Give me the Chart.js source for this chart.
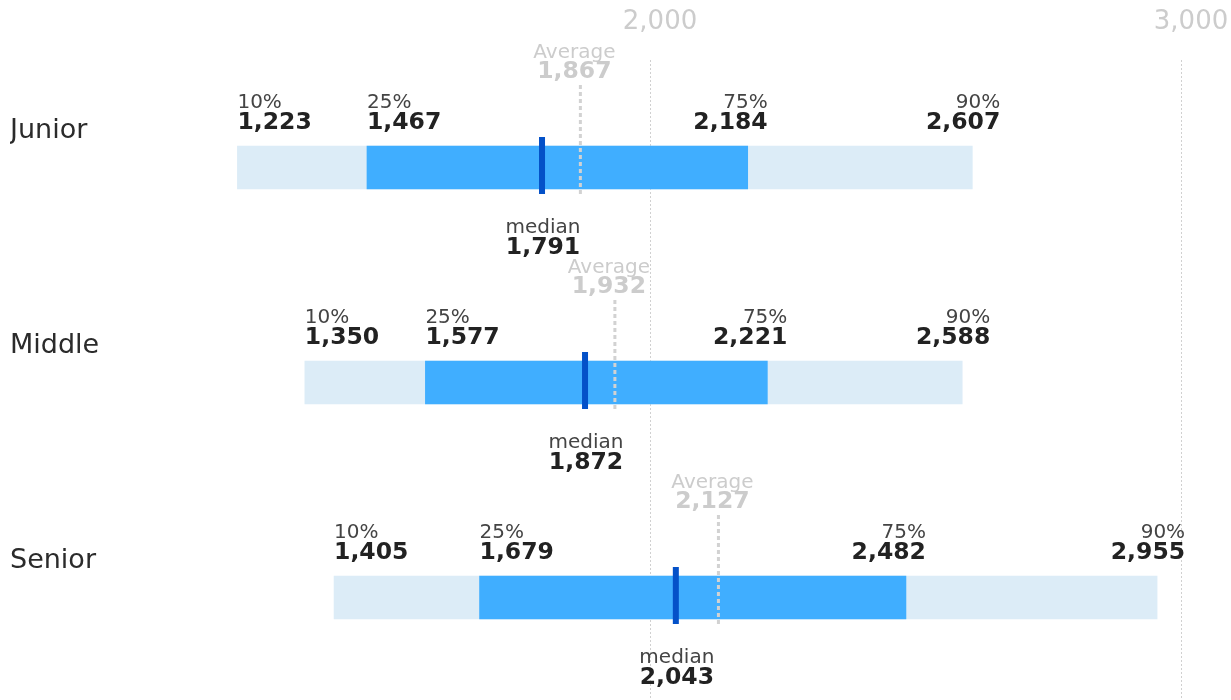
<!DOCTYPE html>
<html>
<head>
<meta charset="utf-8">
<script src="https://cdn.jsdelivr.net/npm/chart.js@4.4.1/dist/chart.umd.min.js"></script>
<style>
  html, body { margin: 0; padding: 0; overflow: hidden; background: #fff; }
  #wrap { width: 1231px; height: 705px; }
</style>
</head>
<body>
<div id="wrap"><canvas id="chart"></canvas></div>
<script>
// salary percentiles per level
const categories = ['Junior', 'Middle', 'Senior'];
const p10 = [1223, 1350, 1405];
const p25 = [1467, 1577, 1679];
const median = [1791, 1872, 2043];
const p75 = [2184, 2221, 2482];
const p90 = [2607, 2588, 2955];
const average = [1867, 1932, 2127];
const xTicks = [2000, 3000];

const fmt = v => v.toLocaleString('en-US');
const FONT = '"DejaVu Sans", sans-serif';

// draws median / average markers and the percentile labels
const markers = {
  id: 'markers',
  afterDatasetsDraw(chart) {
    const ctx = chart.ctx;
    const xs = v => chart.scales.x.getPixelForValue(v);
    const ys = chart.scales.y;
    ctx.save();
    categories.forEach((c, i) => {
      const cy = ys.getPixelForValue(i);

      // median bar
      ctx.fillStyle = '#0451c8';
      ctx.fillRect(xs(median[i]), cy - 30.5, 6, 57);

      // average dashed line
      ctx.strokeStyle = '#d2d2d2';
      ctx.lineWidth = 3;
      ctx.setLineDash([4, 3]);
      ctx.beginPath();
      ctx.moveTo(xs(average[i]) + 1, cy - 82.5);
      ctx.lineTo(xs(average[i]) + 1, cy + 29.5);
      ctx.stroke();
      ctx.setLineDash([]);

      const label = (name, val, x, align, yName, yVal, nameColor, valColor) => {
        ctx.textAlign = align;
        ctx.textBaseline = 'alphabetic';
        ctx.font = '20px ' + FONT;
        ctx.fillStyle = nameColor;
        ctx.fillText(name, x, cy + yName);
        ctx.font = 'bold 23.5px ' + FONT;
        ctx.fillStyle = valColor;
        ctx.fillText(fmt(val), x, cy + yVal);
      };

      label('10%', p10[i], xs(p10[i]), 'left', -60, -39, '#444', '#222');
      label('25%', p25[i], xs(p25[i]), 'left', -60, -39, '#444', '#222');
      label('75%', p75[i], xs(p75[i]) + 20, 'right', -60, -39, '#444', '#222');
      label('90%', p90[i], xs(p90[i]) + 28, 'right', -60, -39, '#444', '#222');
      label('median', median[i], xs(median[i]) + 4, 'center', 65, 86.5, '#444', '#222');
      label('Average', average[i], xs(average[i]) - 5, 'center', -110, -89.5, '#cccccc', '#cccccc');
    });
    ctx.restore();
  }
};

Chart.defaults.font.family = FONT;

new Chart(document.getElementById('chart'), {
  type: 'bar',
  data: {
    labels: categories,
    datasets: [
      {
        label: '25% - 75%',
        data: categories.map((c, i) => [p25[i], p75[i]]),
        backgroundColor: '#40aeff',
        barThickness: 43,
        grouped: false,
        order: 0
      },
      {
        label: '10% - 90%',
        data: categories.map((c, i) => [p10[i], p90[i]]),
        backgroundColor: '#dcecf7',
        barThickness: 43,
        grouped: false,
        order: 1
      }
    ]
  },
  options: {
    indexAxis: 'y',
    responsive: true,
    maintainAspectRatio: false,
    animation: false,
    devicePixelRatio: 1,
    locale: 'en-US',
    layout: { padding: { left: 10, right: 50, top: 0, bottom: 0 } },
    plugins: {
      legend: { display: false },
      tooltip: { enabled: false }
    },
    scales: {
      x: {
        type: 'linear',
        position: 'top',
        min: 1000,
        max: 3000,
        afterBuildTicks: scale => { scale.ticks = xTicks.map(v => ({ value: v })); },
        afterFit: scale => {
          scale.height = 60;
          scale.paddingLeft = 0;
          scale.paddingRight = 0;
        },
        ticks: {
          padding: 22,
          labelOffset: 10,
          color: '#cccccc',
          font: { size: 26 },
          callback: v => fmt(v)
        },
        grid: { color: '#d0d0d0', lineWidth: 1, drawTicks: false },
        border: { display: false, dash: [2, 2] }
      },
      y: {
        afterFit: scale => {
          scale.width = 109;
          scale.paddingTop = 0;
          scale.paddingBottom = 0;
        },
        ticks: {
          crossAlign: 'far',
          labelOffset: -37,
          color: '#2b2b2b',
          font: { size: 27 }
        },
        grid: { display: false },
        border: { display: false }
      }
    }
  },
  plugins: [markers]
});
</script>
</body>
</html>
